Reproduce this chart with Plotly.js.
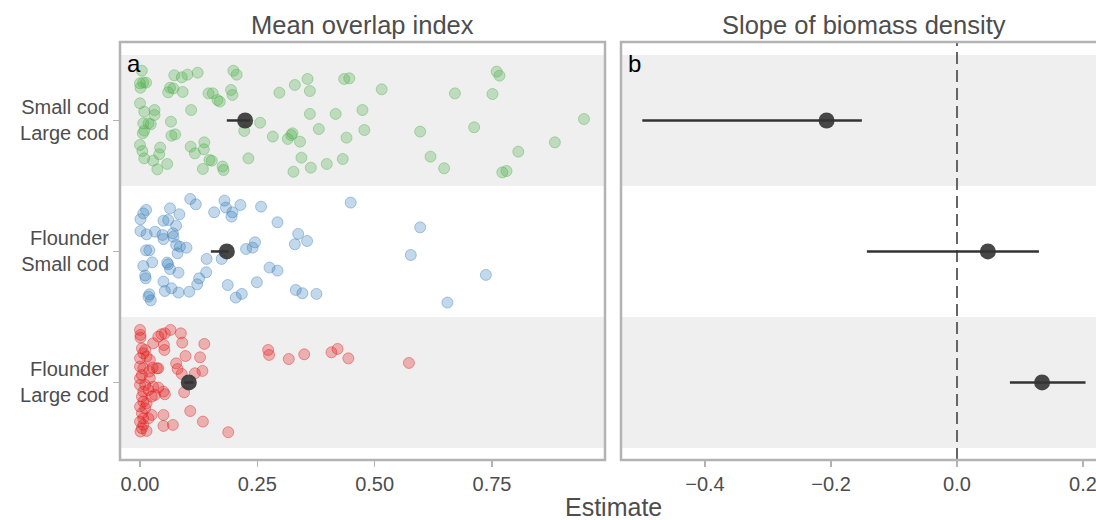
<!DOCTYPE html>
<html>
<head>
<meta charset="utf-8">
<script src="https://cdn.plot.ly/plotly-3.0.1.min.js"></script>
<style>html,body{margin:0;padding:0;background:#fff;overflow:hidden}</style>
</head>
<body>
<div id="chart" style="width:1096px;height:520px"></div>
<script>
// Categories (y = 0, 1, 2 from bottom to top)
const categories = ['Flounder<br>Large cod', 'Flounder<br>Small cod', 'Small cod<br>Large cod'];
const catIndex = [0, 1, 2];

// Panel a: individual overlap values (x) with their vertical jitter within the band
const greenX = [0.004,0.073,0.089,0.101,0.123,0.199,0.206,
  0.000,0.007,0.013,0.001,0.064,0.060,0.071,0.091,0.146,0.155,0.165,0.170,0.194,0.197,
  0.297,0.330,0.357,0.362,0.435,0.446,0.515,0.671,0.751,0.760,0.766,
  0.000,0.009,0.031,0.031,0.109,0.066,0.007,0.018,0.023,0.009,0.006,
  0.067,0.075,0.222,0.256,0.362,0.417,0.474,0.381,
  0.325,0.322,0.315,0.341,0.283,0.440,0.478,0.597,0.712,0.946,0.884,0.806,
  0.000,0.005,0.043,0.041,0.009,0.028,0.037,0.058,
  0.108,0.117,0.137,0.136,0.148,0.153,0.134,0.176,0.178,
  0.231,0.344,0.327,0.364,0.398,0.432,0.619,0.648,0.772,0.781];
const greenJitter = [0.38,0.345,0.33,0.35,0.365,0.38,0.35,
  0.284,0.289,0.289,0.25,0.25,0.215,0.245,0.218,0.207,0.207,0.156,0.144,0.233,0.195,
  0.212,0.271,0.317,0.225,0.317,0.322,0.238,0.207,0.202,0.373,0.342,
  0.131,0.067,0.080,0.042,0.080,-0.009,-0.022,-0.022,-0.029,-0.078,-0.098,
  -0.116,-0.106,-0.080,-0.017,0.050,0.050,0.080,-0.065,
  -0.098,-0.111,-0.141,-0.162,-0.123,-0.131,-0.073,-0.085,-0.052,0.011,-0.167,-0.238,
  -0.187,-0.233,-0.207,-0.258,-0.289,-0.307,-0.373,-0.332,
  -0.200,-0.251,-0.167,-0.220,-0.302,-0.307,-0.370,-0.352,-0.378,
  -0.289,-0.284,-0.391,-0.360,-0.332,-0.294,-0.276,-0.365,-0.396,-0.386];

const blueX = [0.107,0.119,0.180,0.183,0.197,0.195,0.214,0.258,0.158,0.449,0.293,0.597,
  0.337,0.356,0.330,0.245,0.240,0.226,0.142,0.174,0.577,0.276,0.293,0.141,0.126,0.122,
  0.105,0.082,0.187,0.249,0.204,0.217,0.332,0.346,0.376,0.655,0.737,
  0.007,0.013,0.001,0.064,0.084,0.050,0.060,0.077,0.001,0.014,0.032,0.048,0.050,0.070,
  0.071,0.077,0.085,0.099,0.080,0.013,0.020,0.026,0.007,0.058,0.060,0.064,0.082,0.011,
  0.012,0.050,0.053,0.067,0.020,0.018,0.023];
const blueJitter = [0.401,0.360,0.388,0.335,0.299,0.266,0.355,0.342,0.299,0.373,0.223,0.184,
  0.134,0.080,0.055,0.070,0.029,0.019,-0.057,-0.057,-0.027,-0.123,-0.146,-0.159,-0.205,-0.251,
  -0.307,-0.314,-0.256,-0.235,-0.352,-0.324,-0.294,-0.319,-0.324,-0.390,-0.179,
  0.291,0.317,0.246,0.329,0.284,0.235,0.240,0.197,0.156,0.131,0.151,0.126,0.095,0.139,
  0.113,0.050,0.037,0.029,-0.014,0.009,0.009,-0.083,-0.111,-0.085,-0.098,-0.134,-0.162,-0.184,
  -0.205,-0.230,-0.302,-0.281,-0.327,-0.345,-0.373];

const redX = [0.000,0.001,0.001,0.028,0.039,0.046,0.053,0.065,0.087,0.090,0.051,0.052,
  0.137,0.128,0.097,0.077,0.080,0.089,0.117,0.133,0.094,0.107,0.134,0.050,0.050,0.070,0.188,
  0.273,0.275,0.317,0.350,0.408,0.421,0.444,0.573,
  0.004,0.007,0.011,0.000,0.014,0.021,0.000,0.007,0.027,0.039,0.004,0.021,0.000,0.011,
  0.028,0.039,0.050,0.053,0.004,0.007,0.014,0.025,0.032,0.000,0.011,0.004,0.007,0.018,
  0.000,0.025,0.004,0.001,0.014,0.007,0.036,0.007,0.018,0.000,0.020];
const redJitter = [0.401,0.363,0.342,0.299,0.350,0.368,0.375,0.401,0.375,0.304,0.286,0.248,
  0.294,0.192,0.202,0.146,0.103,0.065,0.070,0.088,-0.075,-0.218,-0.299,-0.248,-0.332,-0.324,-0.380,
  0.248,0.210,0.179,0.215,0.230,0.256,0.184,0.149,
  0.261,0.223,0.248,0.184,0.197,0.172,0.121,0.108,0.113,0.108,0.057,0.032,-0.019,-0.019,
  -0.032,-0.039,-0.070,-0.090,-0.108,-0.146,-0.159,-0.108,-0.095,-0.184,-0.197,-0.235,-0.274,-0.274,
  -0.299,-0.248,-0.350,-0.375,-0.370,-0.324,0.108,-0.070,-0.057,0.032,0.083];

// Panel a: mean overlap index with interval (per category 0,1,2)
const overlapEst = [0.104, 0.185, 0.224];
const overlapLo  = [0.094, 0.151, 0.185];
const overlapHi  = [0.114, 0.189, 0.234];

// Panel b: slope of biomass density with interval
const slopeEst = [0.135, 0.049, -0.207];
const slopeLo  = [0.084, -0.143, -0.4995];
const slopeHi  = [0.204, 0.130, -0.151];

const xTicksA = [0, 0.25, 0.5, 0.75];
const xTickTextA = ['0.00', '0.25', '0.50', '0.75'];
const xTicksB = [-0.4, -0.2, 0, 0.2];
const xTickTextB = ['\u22120.4', '\u22120.2', '0.0', '0.2'];

const textColor = '#4d4d4d';
const frameColor = '#b3b3b3';
const bandColor = '#efefef';
const font = 'Liberation Sans, Arial, Helvetica, sans-serif';

function jitterTrace(xs, js, idx, rgb) {
  return {
    type: 'scatter', mode: 'markers', xaxis: 'x', yaxis: 'y', hoverinfo: 'skip',
    x: xs, y: js.map(j => idx + j),
    marker: { size: 11, color: 'rgba(' + rgb + ',0.3)', line: { color: 'rgba(' + rgb + ',0.4)', width: 1 } }
  };
}

function meanTrace(est, lo, hi, xa, ya) {
  return {
    type: 'scatter', mode: 'markers', xaxis: xa, yaxis: ya, hoverinfo: 'skip',
    x: est, y: catIndex,
    error_x: { type: 'data', symmetric: false,
      array: hi.map((h, i) => h - est[i]), arrayminus: lo.map((l, i) => est[i] - l),
      width: 0, thickness: 2.5, color: '#333333' },
    marker: { size: 16, color: 'rgba(51,51,51,0.9)', line: { width: 0 } }
  };
}

const data = [
  jitterTrace(greenX, greenJitter, 2, '77,175,74'),
  jitterTrace(blueX, blueJitter, 1, '55,126,184'),
  jitterTrace(redX, redJitter, 0, '228,26,28'),
  meanTrace(overlapEst, overlapLo, overlapHi, 'x', 'y'),
  meanTrace(slopeEst, slopeLo, slopeHi, 'x2', 'y2')
];

const yRange = [-0.592, 2.599];
const yDomain = [0.1154, 0.9192];
const common = {
  showgrid: false, zeroline: false, showline: false, ticks: 'outside', ticklen: 6,
  tickcolor: frameColor, tickwidth: 1.5, tickfont: { family: font, size: 20, color: textColor },
  ticklabeloverflow: 'allow'
};

const shapes = [];
['x', 'x2'].forEach((xa, k) => {
  const ya = k === 0 ? 'y' : 'y2';
  [[-0.5, 0.5], [1.5, 2.5]].forEach(b => shapes.push({
    type: 'rect', xref: xa + ' domain', yref: ya, x0: 0, x1: 1, y0: b[0], y1: b[1],
    fillcolor: bandColor, line: { width: 0 }, layer: 'below'
  }));
});
shapes.push({ type: 'line', xref: 'x2', yref: 'y2 domain', x0: 0, x1: 0, y0: 0, y1: 1,
  line: { color: '#666666', width: 2, dash: '12px,6px' }, layer: 'below' });
// frames
shapes.push({ type: 'rect', xref: 'x domain', yref: 'y domain', x0: 0, x1: 1, y0: 0, y1: 1,
  line: { color: frameColor, width: 2.5 }, fillcolor: 'rgba(0,0,0,0)', layer: 'above' });
shapes.push({ type: 'path', xref: 'x2 domain', yref: 'y2 domain',
  path: 'M 1.05 1 L 0 1 L 0 0 L 1.05 0', line: { color: frameColor, width: 2.5 }, layer: 'above' });

const annotations = [
  { text: 'Mean overlap index', xref: 'paper', yref: 'paper', x: 362.5 / 1096, y: (520 - 25) / 520,
    xanchor: 'center', yanchor: 'middle', showarrow: false, font: { family: font, size: 25.5, color: textColor } },
  { text: 'Slope of biomass density', xref: 'paper', yref: 'paper', x: 864 / 1096, y: (520 - 25) / 520,
    xanchor: 'center', yanchor: 'middle', showarrow: false, font: { family: font, size: 25.5, color: textColor } },
  { text: 'Estimate', xref: 'paper', yref: 'paper', x: 613.5 / 1096, y: (520 - 507) / 520,
    xanchor: 'center', yanchor: 'middle', showarrow: false, font: { family: font, size: 25, color: textColor } },
  { text: 'a', xref: 'x domain', yref: 'y domain', x: 0, y: 1, xshift: 5, yshift: -6,
    xanchor: 'left', yanchor: 'top', showarrow: false, font: { family: font, size: 24, color: '#000' } },
  { text: 'b', xref: 'x2 domain', yref: 'y2 domain', x: 0, y: 1, xshift: 5, yshift: -6,
    xanchor: 'left', yanchor: 'top', showarrow: false, font: { family: font, size: 24, color: '#000' } }
];

const layout = {
  width: 1096, height: 520,
  margin: { l: 0, r: 0, t: 0, b: 0 },
  paper_bgcolor: '#ffffff', plot_bgcolor: '#ffffff',
  showlegend: false, hovermode: false,
  font: { family: font, color: textColor },
  xaxis: Object.assign({}, common, { domain: [120 / 1096, 605 / 1096], range: [-0.0426, 0.9908],
    tickvals: xTicksA, ticktext: xTickTextA, anchor: 'y' }),
  yaxis: Object.assign({}, common, { domain: yDomain, range: yRange,
    tickvals: catIndex, ticktext: categories, anchor: 'x' }),
  xaxis2: Object.assign({}, common, { domain: [621 / 1096, 1], range: [-0.5333, 0.2206],
    tickvals: xTicksB, ticktext: xTickTextB, anchor: 'y2' }),
  yaxis2: Object.assign({}, common, { domain: yDomain, range: yRange, anchor: 'x2',
    showticklabels: false, ticks: '' }),
  shapes: shapes,
  annotations: annotations
};

Plotly.newPlot('chart', data, layout, { staticPlot: true, displayModeBar: false });
</script>
</body>
</html>
